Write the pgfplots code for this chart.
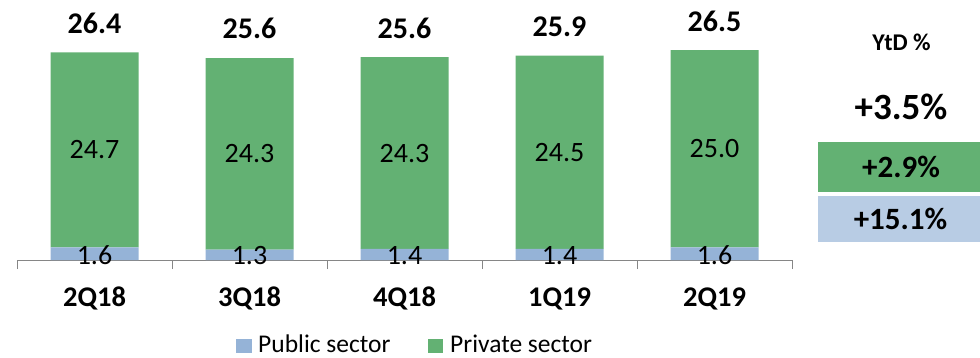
\documentclass[border=0pt]{standalone}
\usepackage{pgfplots}
\pgfplotsset{compat=1.18}
\usepackage{fontspec}
\setmainfont{Carlito}
\definecolor{privgreen}{RGB}{99,177,115}
\definecolor{pubblue}{RGB}{149,179,215}
\definecolor{boxblue}{RGB}{184,204,228}
\definecolor{axisgray}{RGB}{134,134,134}
\newcommand{\fs}[1]{\fontsize{#1}{#1}\selectfont}
\begin{document}
\begin{tikzpicture}[x=1pt,y=1pt]
\useasboundingbox (0,0) rectangle (980,357);
\begin{axis}[
  at={(17pt,97pt)}, anchor=south west,
  scale only axis, width=775pt, height=236.7pt,
  xmin=-0.5, xmax=4.5, ymin=0, ymax=30,
  clip=false,
  ybar stacked, bar width=88pt,
  axis x line*=bottom, axis y line=none,
  x axis line style={draw=axisgray, line width=1pt, -},
  xtick={-0.5,0.5,1.5,2.5,3.5,4.5}, xticklabels={},
  ytick=\empty,
  tick style={draw=axisgray, line width=1pt},
  major tick length=9pt, tick align=outside,
]
\addplot[fill=pubblue, draw=none] coordinates {(0,1.6) (1,1.3) (2,1.4) (3,1.4) (4,1.6)};
\addplot[fill=privgreen, draw=none] coordinates {(0,24.7) (1,24.3) (2,24.3) (3,24.5) (4,25.0)};
% label anchors
\coordinate (v0) at (axis cs:0,13.95);
\coordinate (v1) at (axis cs:1,13.45);
\coordinate (v2) at (axis cs:2,13.55);
\coordinate (v3) at (axis cs:3,13.65);
\coordinate (v4) at (axis cs:4,14.1);
\coordinate (u0) at (axis cs:0,0.57);
\coordinate (u1) at (axis cs:1,0.57);
\coordinate (u2) at (axis cs:2,0.57);
\coordinate (u3) at (axis cs:3,0.57);
\coordinate (u4) at (axis cs:4,0.57);
\coordinate (t0) at (axis cs:0,30.0);
\coordinate (t1) at (axis cs:1,29.3);
\coordinate (t2) at (axis cs:2,29.4);
\coordinate (t3) at (axis cs:3,29.6);
\coordinate (t4) at (axis cs:4,30.2);
\coordinate (c0) at (axis cs:0,-5.83);
\coordinate (c1) at (axis cs:1,-5.83);
\coordinate (c2) at (axis cs:2,-5.83);
\coordinate (c3) at (axis cs:3,-5.83);
\coordinate (c4) at (axis cs:4,-5.83);
\end{axis}
% private labels
\node[font=\fs{28}] at (v0) {24.7};
\node[font=\fs{28}] at (v1) {24.3};
\node[font=\fs{28}] at (v2) {24.3};
\node[font=\fs{28}] at (v3) {24.5};
\node[font=\fs{28}] at (v4) {25.0};
% public labels
\node[font=\fs{28}] at (u0) {1.6};
\node[font=\fs{28}] at (u1) {1.3};
\node[font=\fs{28}] at (u2) {1.4};
\node[font=\fs{28}] at (u3) {1.4};
\node[font=\fs{28}] at (u4) {1.6};
% totals
\node[font=\fs{30}\bfseries] at (t0) {26.4};
\node[font=\fs{30}\bfseries] at (t1) {25.6};
\node[font=\fs{30}\bfseries] at (t2) {25.6};
\node[font=\fs{30}\bfseries] at (t3) {25.9};
\node[font=\fs{30}\bfseries] at (t4) {26.5};
% categories
\node[font=\fs{28.5}\bfseries, anchor=base] at (c0) {2Q18};
\node[font=\fs{28.5}\bfseries, anchor=base] at (c1) {3Q18};
\node[font=\fs{28.5}\bfseries, anchor=base] at (c2) {4Q18};
\node[font=\fs{28.5}\bfseries, anchor=base] at (c3) {1Q19};
\node[font=\fs{28.5}\bfseries, anchor=base] at (c4) {2Q19};
% legend
\fill[pubblue] (236,4.5) rectangle (252,18);
\node[font=\fs{25.5}, anchor=base west, inner sep=0pt] at (258,5) {Public sector};
\fill[privgreen] (427.5,4.5) rectangle (443,18);
\node[font=\fs{25.5}, anchor=base west, inner sep=0pt] at (450,5) {Private sector};
% right panel
\node[font=\fs{24}\bfseries] at (901.5,315) {YtD \%};
\node[font=\fs{37}\bfseries] at (901,250) {+3.5\%};
\fill[privgreen] (818,165) rectangle (980,215);
\node[font=\fs{31}\bfseries] at (901,190) {+2.9\%};
\fill[boxblue] (818,115) rectangle (980,161);
\node[font=\fs{31}\bfseries] at (900.5,138) {+15.1\%};
\end{tikzpicture}
\end{document}
